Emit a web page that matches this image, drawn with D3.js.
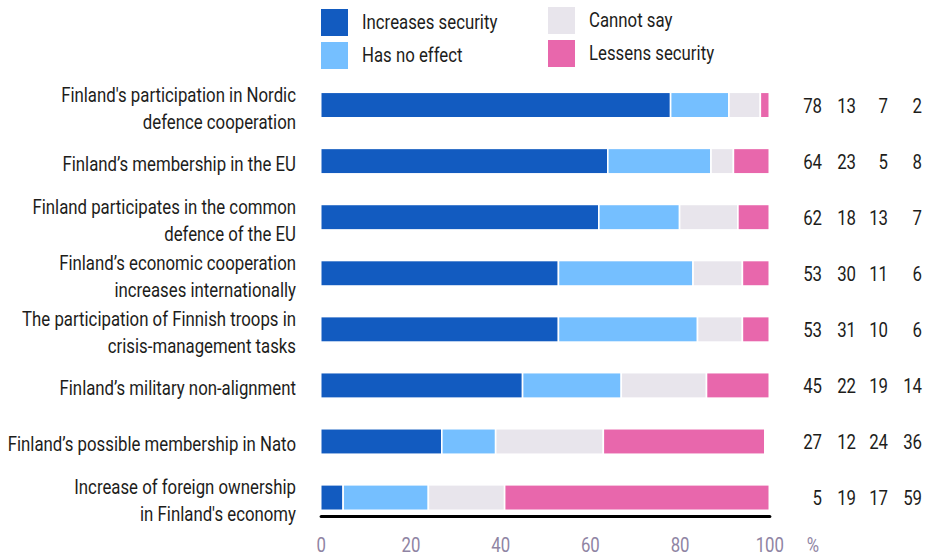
<!DOCTYPE html>
<html>
<head>
<meta charset="utf-8">
<script src="https://cdn.jsdelivr.net/npm/d3@7"></script>
<style>
  body { margin: 0; background: #fff; }
  text { font-family: Roboto, "Liberation Sans", sans-serif; }
</style>
</head>
<body>
<svg id="chart" width="931" height="559"></svg>
<script>
// Survey statements (line breaks mark how each label wraps)
const categories = [
  "Finland's participation in Nordic\ndefence cooperation",
  "Finland’s membership in the EU",
  "Finland participates in the common\ndefence of the EU",
  "Finland’s economic cooperation\nincreases internationally",
  "The participation of Finnish troops in\ncrisis-management tasks",
  "Finland’s military non-alignment",
  "Finland’s possible membership in Nato",
  "Increase of foreign ownership\nin Finland's economy"
];

// Share of answers, %
const increasesSecurity = [78, 64, 62, 53, 53, 45, 27, 5];
const hasNoEffect       = [13, 23, 18, 30, 31, 22, 12, 19];
const cannotSay         = [7, 5, 13, 11, 10, 19, 24, 17];
const lessensSecurity   = [2, 8, 7, 6, 6, 14, 36, 59];

const seriesNames = ["Increases security", "Has no effect", "Cannot say", "Lessens security"];
const seriesColors = ["#125bc0", "#75bfff", "#e8e5ec", "#e867ac"];
const xTicks = [0, 20, 40, 60, 80, 100];

const seriesValues = [increasesSecurity, hasNoEffect, cannotSay, lessensSecurity];
const table = categories.map((c, i) => {
  const row = { category: c };
  seriesNames.forEach((s, k) => { row[s] = seriesValues[k][i]; });
  return row;
});

const svg = d3.select("#chart");
const squeeze = 0.84;   // narrow the glyphs to a condensed face
const textColor = "#1d1d1b";
const axisColor = "#8f84a3";

const x = d3.scaleLinear().domain([0, 100]).range([320.7, 769.3]);
const y = d3.scaleBand()
  .domain(categories)
  .range([77, 525.6])
  .paddingInner(0.545)
  .paddingOuter(0.2725);

const color = d3.scaleOrdinal().domain(seriesNames).range(seriesColors);

// Stacked bars
const stacked = d3.stack().keys(seriesNames)(table);
svg.append("g")
  .selectAll("g")
  .data(stacked)
  .join("g")
    .attr("fill", d => color(d.key))
  .selectAll("rect")
  .data(d => d)
  .join("rect")
    .attr("x", d => x(d[0]))
    .attr("y", d => y(d.data.category))
    .attr("width", d => Math.max(0, x(d[1]) - x(d[0])))
    .attr("height", y.bandwidth())
    .attr("stroke", "#fff")
    .attr("stroke-width", 1.6);

// Axis with a heavy baseline and no tick marks
const axisY = 516;
const axis = svg.append("g")
  .attr("transform", `translate(0,${axisY})`)
  .call(d3.axisBottom(x).tickValues(xTicks).tickSize(0).tickSizeOuter(0).tickPadding(22));
axis.select(".domain").attr("stroke", "#000").attr("stroke-width", 3.2).attr("stroke-linecap", "round");
axis.selectAll(".tick text")
  .attr("font-size", 20)
  .attr("fill", axisColor)
  .attr("font-family", "Roboto, sans-serif")
  .attr("transform", `scale(${squeeze},1)`)
  .attr("x", 0);

svg.append("g")
  .attr("transform", `translate(813,${axisY + 36}) scale(${squeeze},1)`)
  .append("text")
  .attr("text-anchor", "middle")
  .attr("font-size", 20)
  .attr("fill", axisColor)
  .text("%");

// Category labels, right-aligned against the bars
const labelX = 296;
const lineGap = 27;
categories.forEach(c => {
  const lines = c.split("\n");
  const cy = y(c) + y.bandwidth() / 2 + 3;
  const g = svg.append("g")
    .attr("transform", `translate(${labelX},${cy}) scale(${squeeze},1)`);
  const t = g.append("text")
    .attr("text-anchor", "end")
    .attr("font-size", 20)
    .attr("fill", textColor);
  lines.forEach((ln, j) => {
    t.append("tspan")
      .attr("x", 0)
      .attr("y", (j - (lines.length - 1) / 2) * lineGap + 7)
      .text(ln);
  });
});

// Value columns on the right
const columnRight = [822, 856, 888, 922];
table.forEach(row => {
  const cy = y(row.category) + y.bandwidth() / 2 + 7.5;
  seriesNames.forEach((s, k) => {
    svg.append("g")
      .attr("transform", `translate(${columnRight[k]},${cy}) scale(0.8,1)`)
      .append("text")
      .attr("text-anchor", "end")
      .attr("font-size", 21)
      .attr("fill", textColor)
      .text(row[s]);
  });
});

// Legend in two columns
const legendCols = [321, 548];
const legendRows = [9, 42];
seriesNames.forEach((s, k) => {
  const lx = legendCols[Math.floor(k / 2)];
  const ly = legendRows[k % 2] - (k >= 2 ? 2 : 0);
  const g = svg.append("g").attr("transform", `translate(${lx},${ly})`);
  g.append("rect")
    .attr("width", 27)
    .attr("height", 27)
    .attr("fill", color(s));
  g.append("g")
    .attr("transform", `translate(41,${13 + 7}) scale(${squeeze},1)`)
    .append("text")
    .attr("font-size", 20)
    .attr("fill", textColor)
    .text(s);
});
</script>
</body>
</html>
